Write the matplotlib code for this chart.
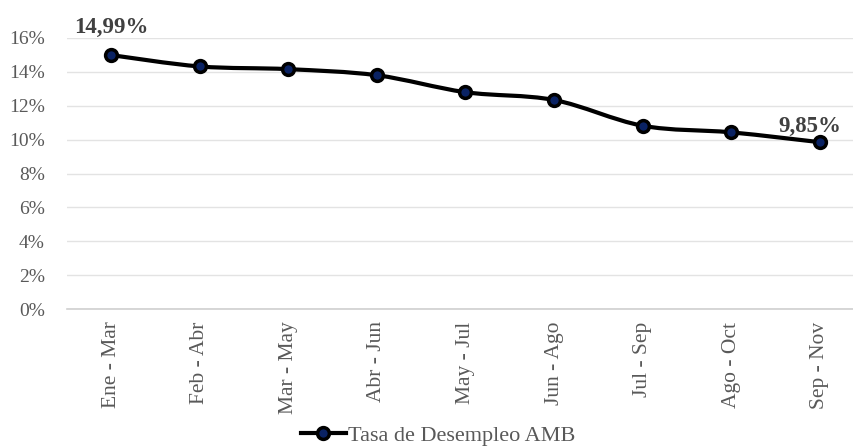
import matplotlib
matplotlib.use('Agg')
import matplotlib.pyplot as plt
import numpy as np
from matplotlib.path import Path
from matplotlib.patches import PathPatch
from matplotlib.lines import Line2D
from matplotlib.ticker import FuncFormatter

# --- DATA ---
periodos = ['Ene - Mar', 'Feb - Abr', 'Mar - May', 'Abr - Jun', 'May - Jul',
            'Jun - Ago', 'Jul - Sep', 'Ago - Oct', 'Sep - Nov']
tasa = [14.99, 14.32, 14.16, 13.80, 12.80, 12.34, 10.82, 10.43, 9.85]
serie = 'Tasa de Desempleo AMB'

C = dict(line='#000000', marker='#0a2263', text='#595959', label='#404040',
         grid='#e3e3e3', axis='#d0d0d0')

plt.rcParams['font.family'] = ['Liberation Serif', 'DejaVu Serif']

fig = plt.figure(figsize=(8.54, 4.46), dpi=100)
ax = fig.add_axes([67 / 854, 1 - 309 / 446, (864 - 67) / 854, (309 - 38) / 446])

x = np.arange(len(tasa))
y = np.array(tasa)

# smoothed line (Catmull-Rom -> cubic Bezier, like Excel's smoothing)
verts = [(x[0], y[0])]
codes = [Path.MOVETO]
for i in range(len(x) - 1):
    p0 = np.array([x[max(i - 1, 0)], y[max(i - 1, 0)]])
    p1 = np.array([x[i], y[i]])
    p2 = np.array([x[i + 1], y[i + 1]])
    p3 = np.array([x[min(i + 2, len(x) - 1)], y[min(i + 2, len(x) - 1)]])
    c1 = p1 + (p2 - p0) / 6
    c2 = p2 - (p3 - p1) / 6
    verts += [tuple(c1), tuple(c2), tuple(p2)]
    codes += [Path.CURVE4] * 3
ax.add_patch(PathPatch(Path(verts, codes), facecolor='none', edgecolor=C['line'],
                       lw=3, zorder=3, capstyle='round', joinstyle='round'))
ax.plot(x, y, ls='none', marker='o', ms=8.5, mfc=C['marker'], mec=C['line'],
        mew=2.5, zorder=4)

ax.set_xlim(-0.5, len(x) - 0.5)
ax.set_ylim(0, 16)
ax.set_yticks(np.arange(0, 17, 2))
ax.yaxis.set_major_formatter(FuncFormatter(lambda v, p: f'{v:.0f}%'))
ax.set_xticks(x)
ax.set_xticklabels(periodos, rotation=90)
ax.tick_params(length=0, colors=C['text'])
ax.tick_params(axis='x', pad=9, labelsize=15.5)
ax.tick_params(axis='y', pad=16, labelsize=14)
ax.grid(True, axis='y', color=C['grid'], lw=1)
ax.set_axisbelow(True)
for s in ['top', 'right', 'left']:
    ax.spines[s].set_visible(False)
ax.spines['bottom'].set_color(C['axis'])
ax.spines['bottom'].set_linewidth(1.2)

# data labels first and last
ax.annotate(f'{tasa[0]:.2f}%'.replace('.', ','), (x[0], y[0]), xytext=(0, 12),
            textcoords='offset points', ha='center', va='bottom',
            fontsize=16.5, fontweight='bold', color=C['label'])
ax.annotate(f'{tasa[-1]:.2f}%'.replace('.', ','), (x[-1], y[-1]), xytext=(-7, 4),
            textcoords='offset points', ha='center', va='bottom',
            fontsize=16.5, fontweight='bold', color=C['label'])

handle = Line2D([], [], color=C['line'], lw=3, marker='o', ms=8.5,
                mfc=C['marker'], mec=C['line'], mew=2.5)
fig.legend([handle], [serie], loc='lower center', bbox_to_anchor=(0.513, -0.045),
           frameon=False, fontsize=16, labelcolor=C['text'], handlelength=2.0,
           handletextpad=0.1)

fig.savefig('out.png', dpi=100)
